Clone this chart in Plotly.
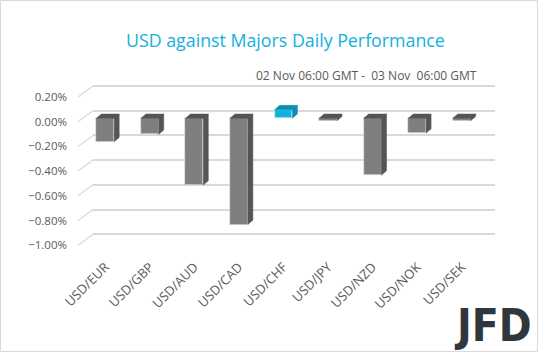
import plotly.graph_objects as go

categories = ["USD/EUR", "USD/GBP", "USD/AUD", "USD/CAD", "USD/CHF", "USD/JPY", "USD/NZD", "USD/NOK", "USD/SEK"]
values = [-0.0019, -0.0013, -0.0054, -0.0086, 0.0007, -0.0002, -0.0046, -0.0012, -0.0002]
ytick_vals = [0.002, 0.0, -0.002, -0.004, -0.006, -0.008, -0.010]

W, H = 538, 352
L, R, T, B = 83, 43, 80, 92
PW, PH = W - L - R, H - T - B

# axis geometry (pixel scale -> value)
px_per_unit = 24.7 / 0.002
y_front_range = [-(260 - 121.7) / px_per_unit, (121.7 - 80) / px_per_unit]
wall_shift = 11 / px_per_unit
bar_shift = 3.4 / px_per_unit
y_wall_range = [y_front_range[0] - wall_shift, y_front_range[1] - wall_shift]
y_bar_range = [y_front_range[0] - bar_shift, y_front_range[1] - bar_shift]

cat_px = 401 / 9
bw = 0.4
dx = 5 / cat_px
dy = 4.3 / px_per_unit

front_gray, side_gray = "#7f7f7f", "#555555"
front_blue, side_blue = "#12b2dc", "#0a8eb4"

fig = go.Figure()

fig.add_trace(go.Scatter(x=[0], y=[0], mode="markers", marker=dict(opacity=0), xaxis="x", yaxis="y",
                         showlegend=False, hoverinfo="skip"))
fig.add_trace(go.Scatter(x=[0], y=[0], mode="markers", marker=dict(opacity=0), xaxis="x2", yaxis="y2",
                         showlegend=False, hoverinfo="skip"))

idx = list(range(len(categories)))
colors = [front_blue if v > 0 else front_gray for v in values]
fig.add_trace(go.Bar(x=idx, y=values, width=bw, marker=dict(color=colors, line=dict(width=0.6, color="#e6e6e6")),
                     xaxis="x2", yaxis="y3", showlegend=False, hoverinfo="skip"))

def faces(sel):
    xs, ys = [], []
    for i, v in zip(idx, values):
        if not sel(v):
            continue
        top = max(v, 0.0)
        bot = min(v, 0.0)
        xr = i + bw / 2
        xl = i - bw / 2
        xs += [xr, xr + dx, xr + dx, xr, xr, None]
        ys += [top, top + dy, bot + dy, bot, top, None]
        xs += [xl, xl + dx, xr + dx, xr, xl, None]
        ys += [top, top + dy, top + dy, top, top, None]
    return xs, ys

for sel, col in [(lambda v: v <= 0, side_gray), (lambda v: v > 0, side_blue)]:
    xs, ys = faces(sel)
    fig.add_trace(go.Scatter(x=xs, y=ys, mode="lines", fill="toself", fillcolor=col,
                             line=dict(width=0.5, color=col), xaxis="x2", yaxis="y3",
                             showlegend=False, hoverinfo="skip"))

wall_x0 = 10 / PW
front_x0 = -5 / PW
shapes = []
for v in ytick_vals:
    shapes.append(dict(type="line", xref="paper", yref="y2", x0=front_x0, x1=wall_x0, y0=v, y1=v + wall_shift,
                       line=dict(color="#d9d9d9", width=1.2), layer="below"))
shapes.append(dict(type="rect", xref="paper", yref="paper",
                   x0=(0.5 - L) / PW, x1=(W - 0.5 - L) / PW,
                   y0=-(B - 0.5) / PH, y1=(PH + T - 0.5) / PH,
                   line=dict(color="#d9d9d9", width=1)))

ytick_font = dict(family="Open Sans, Liberation Sans, sans-serif", size=11.5, color="#595959")
xtick_font = dict(family="Open Sans, Liberation Sans, sans-serif", size=13, color="#595959")

fig.update_layout(
    width=W, height=H, margin=dict(l=L, r=R, t=T, b=B),
    paper_bgcolor="white", plot_bgcolor="rgba(0,0,0,0)",
    bargap=0,
    xaxis=dict(domain=[wall_x0, 1], range=[0, 1], visible=False, anchor="y"),
    yaxis=dict(range=y_wall_range, anchor="x", tickmode="array", tickvals=ytick_vals,
               showticklabels=False, showgrid=True, gridcolor="#d9d9d9", gridwidth=1.5, zeroline=False),
    xaxis2=dict(domain=[0, 401 / PW], range=[-0.5, 8.5], tickmode="array", tickvals=idx, ticktext=categories,
                tickangle=-45, tickfont=xtick_font, showgrid=False, zeroline=False, showline=False, ticks="",
                ticklabelstandoff=-4, anchor="y2"),
    yaxis2=dict(range=y_front_range, overlaying="y", anchor="x2", tickmode="array", tickvals=ytick_vals,
                tickformat=".2%", tickfont=ytick_font, showgrid=False, zeroline=False, showline=False, ticks="",
                ticklabelstandoff=15),
    yaxis3=dict(range=y_bar_range, overlaying="y", anchor="x2", visible=False),
    shapes=shapes,
    annotations=[
        dict(text="USD against Majors Daily Performance", xref="paper", yref="paper",
             x=(285 - L) / PW, y=(PH + T - 40) / PH, xanchor="center", yanchor="middle", showarrow=False,
             font=dict(family="Open Sans, sans-serif", size=17.8, color="#14b0dc")),
        dict(text="02 Nov 06:00 GMT -  03 Nov  06:00 GMT", xref="paper", yref="paper",
             x=(479 - L) / PW, y=(PH + T - 75) / PH, xanchor="right", yanchor="middle", showarrow=False,
             font=dict(family="Open Sans, sans-serif", size=12, color="#595959")),
        dict(text="<b>JFD</b>", xref="paper", yref="paper",
             x=(493 - L) / PW, y=(PH + T - 325) / PH, xanchor="center", yanchor="middle", showarrow=False,
             font=dict(family="DejaVu Sans Condensed, Roboto, sans-serif", size=44, color="#2f363e")),
    ],
)

fig.write_html("out.html")
